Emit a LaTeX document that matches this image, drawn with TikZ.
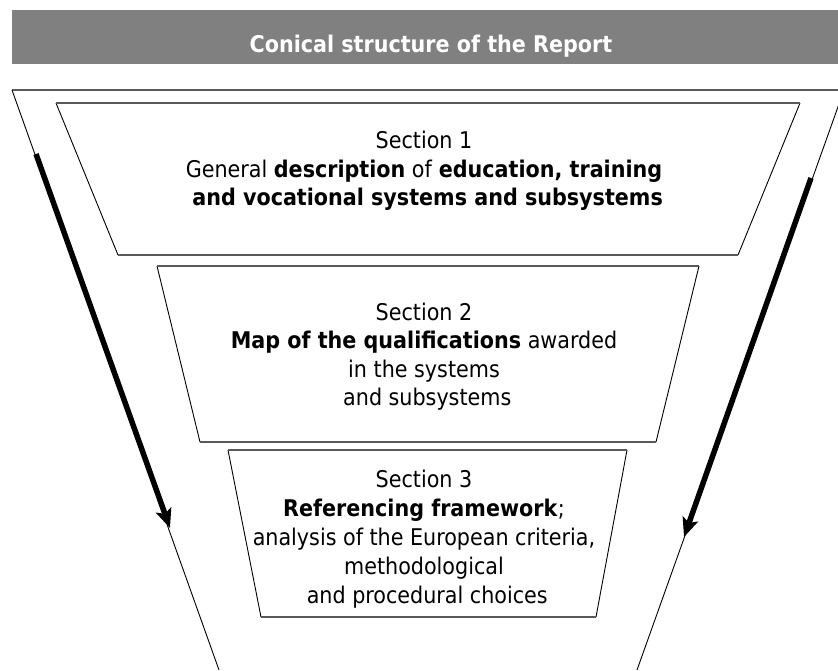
\documentclass[tikz,border=0pt]{standalone}
\usepackage{fontspec}
\setmainfont{DejaVu Sans Condensed}
\usetikzlibrary{arrows.meta}
\tikzset{
  edgegray/.style={draw=black!65, line width=1.8pt},
  edgeside/.style={draw=black, line width=0.9pt},
  txt/.style={anchor=base, inner sep=0pt, font=\fontsize{23}{28}\selectfont},
  flowarrow/.style={line width=5.5pt, -{Stealth[length=19pt,width=16pt,inset=4pt]}},
}
\begin{document}
\begin{tikzpicture}[x=1pt,y=-1pt]
\useasboundingbox (0,0) rectangle (838,670);
% header
\fill[fill=black!50] (12,10) rectangle (838,64);
\node[txt, text=white, font=\bfseries\fontsize{23}{28}\selectfont] (title) at (431,52) {Conical structure of the Report};
% outer funnel
\coordinate (oTL) at (12,90);
\coordinate (oTR) at (838,90);
\coordinate (oBL) at (219,670);
\coordinate (oBR) at (637,670);
\coordinate (oTRx) at (844,90);
\draw[edgegray] (oTL) -- (oTR);
\draw[edgeside] (oTL) -- (oBL);
\draw[edgeside] (oTRx) -- (oBR);
% box 1
\coordinate (aTL) at (56,103);
\coordinate (aTR) at (800,103);
\coordinate (aBL) at (118,255);
\coordinate (aBR) at (738,255);
\draw[edgeside] (aTL) -- (aBL);
\draw[edgeside] (aTR) -- (aBR);
\draw[edgegray] (aTL) -- (aTR);
\draw[edgegray] (aBL) -- (aBR);
% box 2
\coordinate (bTL) at (157,266);
\coordinate (bTR) at (699,266);
\coordinate (bBL) at (200,442);
\coordinate (bBR) at (656,442);
\draw[edgeside] (bTL) -- (bBL);
\draw[edgeside] (bTR) -- (bBR);
\draw[edgegray] (bTL) -- (bTR);
\draw[edgegray] (bBL) -- (bBR);
% box 3
\coordinate (cTL) at (228,450);
\coordinate (cTR) at (627,450);
\coordinate (cBL) at (261,617);
\coordinate (cBR) at (596,617);
\draw[edgeside] (cTL) -- (cBL);
\draw[edgeside] (cTR) -- (cBR);
\draw[edgegray] (cTL) -- (cTR);
\draw[edgegray] (cBL) -- (cBR);
% arrows
\coordinate (laS) at (36,154);
\coordinate (laE) at (170,528);
\coordinate (raS) at (811,178);
\coordinate (raE) at (684,537);
\draw[flowarrow] (laS) -- (laE);
\draw[flowarrow] (raS) -- (raE);
% texts box 1
\node[txt] (t1a) at (424,148) {Section 1};
\node[txt] (t1b) at (424,177) {General \textbf{description} of \textbf{education, training}};
\node[txt] (t1c) at (424,205) {\textbf{~and vocational systems and subsystems}};
% texts box 2
\node[txt] (t2a) at (424,320) {Section 2};
\node[txt] (t2b) at (424,348) {\textbf{Map of the qualifications} awarded};
\node[txt] (t2c) at (424,377) {in the systems};
\node[txt] (t2d) at (424,405) {~and subsystems};
% texts box 3
\node[txt] (t3a) at (424,487) {Section 3};
\node[txt] (t3b) at (424,516) {\textbf{Referencing framework};};
\node[txt] (t3c) at (424,545) {analysis of the European criteria,};
\node[txt] (t3d) at (424,574) {methodological};
\node[txt] (t3e) at (424,603) {~and procedural choices};
\end{tikzpicture}
\end{document}
